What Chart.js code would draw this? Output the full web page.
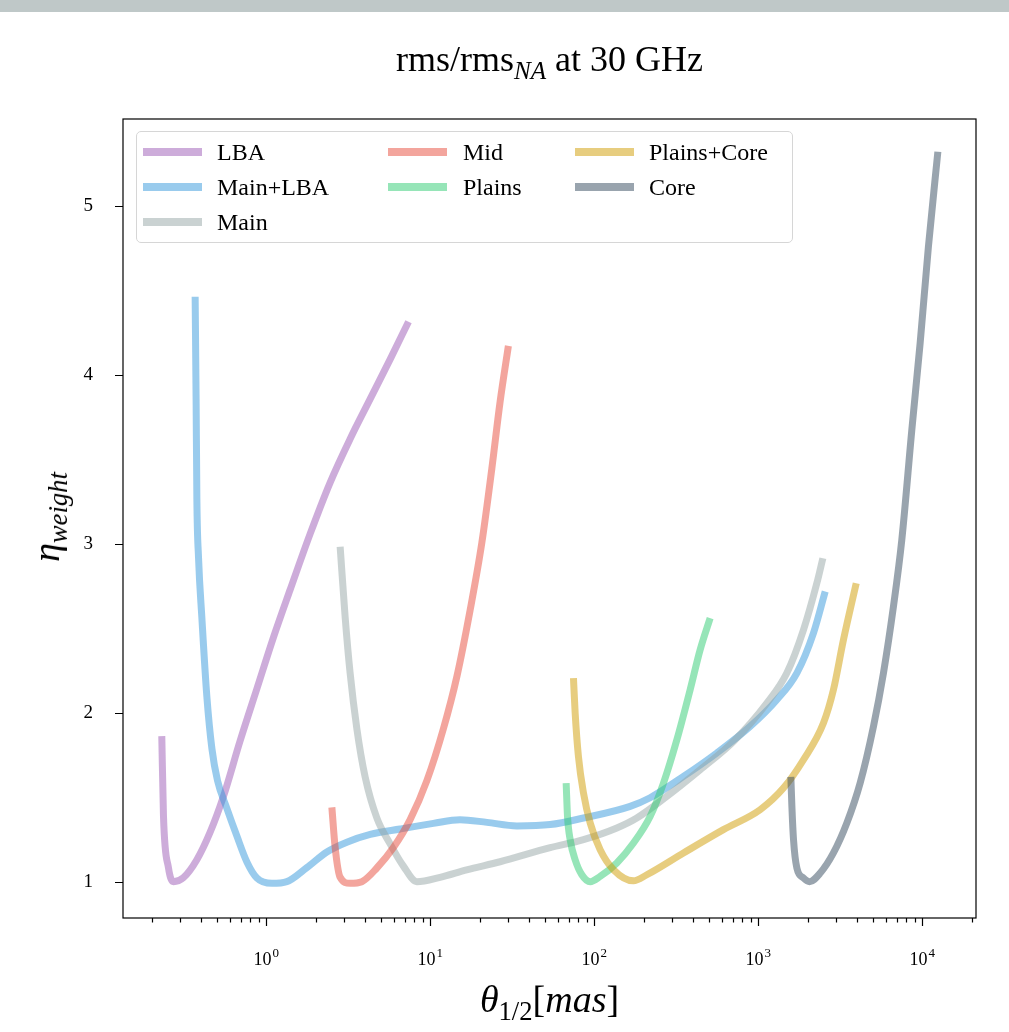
<!DOCTYPE html>
<html>
<head>
<meta charset="utf-8">
<script src="https://cdn.jsdelivr.net/npm/chart.js@4.4.1/dist/chart.umd.min.js"></script>
<style>
  html, body { margin:0; padding:0; background:#fff; }
  #wrap { position:relative; width:1009px; height:1032px; overflow:hidden; font-family:"Liberation Serif", "DejaVu Serif", serif; color:#000; }
  #topbar { position:absolute; left:0; top:0; width:1009px; height:12px; background:#bfc8c8; }
  #c { position:absolute; left:0; top:0; }
  .ttl { position:absolute; white-space:nowrap; line-height:1; }
  #title { left:123px; width:853px; top:41px; text-align:center; font-size:36px; }
  #xlab { left:123px; width:853px; top:980px; text-align:center; font-size:38px; }
  #ylab { left:46px; top:517px; font-size:38px; transform:translate(-50%,-50%) rotate(-90deg); transform-origin:center; }
  sub { font-size:0.7em; vertical-align:-0.3em; line-height:0; }
  #legend { position:absolute; left:136px; top:131px; width:657px; height:112px; border:1.3px solid #d6d6d6; border-radius:5px; background:rgba(255,255,255,0.8); box-sizing:border-box; }
  .li { position:absolute; font-size:24px; line-height:1; white-space:nowrap; }
  .sw { position:absolute; width:59px; height:8px; }
</style>
</head>
<body>
<div id="wrap">
  <div id="topbar"></div>
  <canvas id="c" width="1009" height="1032"></canvas>
  <div id="title" class="ttl">rms/rms<sub><i>NA</i></sub> at 30 GHz</div>
  <div id="xlab" class="ttl"><i>θ</i><sub>1/2</sub>[<i>mas</i>]</div>
  <div id="ylab" class="ttl"><i>η</i><sub><i>weight</i></sub></div>
  <div id="legend"></div>
</div>
<script>
// ---- data ----
const seriesNames = ['LBA', 'Main+LBA', 'Main', 'Mid', 'Plains', 'Plains+Core', 'Core'];
const seriesColors = ['rgba(155,89,182,0.5)', 'rgba(52,152,219,0.5)', 'rgba(149,165,166,0.5)', 'rgba(231,76,60,0.5)', 'rgba(46,204,113,0.5)', 'rgba(207,155,0,0.5)', 'rgba(52,73,94,0.5)'];

const lbaX = [0.231,0.2366,0.2537,0.272,0.313,0.378,0.4555,0.549,0.694,0.878,1.108,1.40,1.854,2.455,3.25,4.31,5.70,7.38];
const lbaY = [1.862,1.387,1.083,1.000,1.024,1.130,1.293,1.505,1.834,2.142,2.446,2.728,3.059,3.363,3.621,3.858,4.092,4.315];

const mainLbaX = [0.369,0.374,0.378,0.387,0.4055,0.435,0.467,0.505,0.576,0.663,0.763,0.878,1.083,1.337,1.77,2.345,3.105,4.31,6.56,10.47,15.2,22.2,33.8,53.9,86.1,165.8,219.4,350.4,560,894,1300,1722,2174,2564];
const mainLbaY = [4.463,3.858,3.269,2.917,2.563,2.095,1.787,1.599,1.434,1.270,1.117,1.022,0.99,1.0,1.083,1.176,1.234,1.28,1.312,1.345,1.367,1.351,1.33,1.338,1.377,1.446,1.497,1.623,1.762,1.919,2.077,2.235,2.472,2.718];

const mainX = [2.826,3.032,3.25,3.573,4.015,4.73,5.70,6.87,8.30,11.5,16.7,26.7,53.9,86.1,137.5,182,277,443,707,1130,1496,1890,2280,2481];
const mainY = [2.983,2.566,2.236,1.906,1.620,1.378,1.224,1.092,1.0,1.026,1.070,1.118,1.201,1.249,1.318,1.377,1.505,1.663,1.830,2.057,2.235,2.491,2.767,2.915];

const midX = [2.516,2.635,2.826,3.25,3.833,4.73,5.97,7.55,9.55,12.05,14.55,17.54,20.66,23.78,26.7,30.0];
const midY = [1.44,1.202,1.026,0.99,1.0,1.081,1.202,1.367,1.598,1.906,2.214,2.609,3.006,3.446,3.841,4.172];

const plainsX = [67.5,68.8,71.4,76.6,84.1,94.6,108.8,137.5,173.7,219.4,264.7,319.4,384.8,443,509.6];
const plainsY = [1.584,1.386,1.249,1.130,1.041,1.0,1.031,1.111,1.229,1.386,1.584,1.840,2.136,2.373,2.560];

const plainsCoreX = [74.8,76.6,80.2,86.1,94.6,108.8,131.2,173.7,209.6,350.4,614,1028,1426,1890,2502,2878,3313,3963];
const plainsCoreY = [2.205,1.998,1.741,1.525,1.347,1.189,1.071,1.005,1.041,1.170,1.308,1.426,1.554,1.722,1.939,2.136,2.432,2.767];

const coreX = [1583,1606,1643,1722,1890,2056,2390,2878,3474,4188,5048,5808,6683,7516,8651,9722,10920,12470];
const coreY = [1.620,1.446,1.249,1.081,1.022,1.0,1.051,1.170,1.347,1.584,1.919,2.235,2.629,3.024,3.675,4.188,4.759,5.321];

const xMajorTicks = [1, 10, 100, 1000, 10000];
const xTickBase = '10';
const xTickExponents = ['0', '1', '2', '3', '4'];
const yTicks = [1, 2, 3, 4, 5];
const yTickLabels = ['1', '2', '3', '4', '5'];

const xMin = 0.134, xMax = 21300;
const yMin = 0.785, yMax = 5.515;
// -----------------------------------------

const allX = [lbaX, mainLbaX, mainX, midX, plainsX, plainsCoreX, coreX];
const allY = [lbaY, mainLbaY, mainY, midY, plainsY, plainsCoreY, coreY];

function pts(xs, ys) { return xs.map((x, i) => ({ x: x, y: ys[i] })); }

const datasets = seriesNames.map((name, i) => ({
  label: name,
  data: pts(allX[i], allY[i]),
  borderColor: seriesColors[i],
  backgroundColor: seriesColors[i],
  borderWidth: 7,
  showLine: true,
  pointRadius: 0,
  pointHoverRadius: 0,
  fill: false,
  cubicInterpolationMode: 'monotone',
  borderCapStyle: 'butt',
  borderJoinStyle: 'round',
  order: seriesNames.length - i
}));

// minor tick values for the log axis
const xAllTicks = [];
for (let e = -1; e <= 4; e++) {
  for (let m = 1; m <= 9; m++) {
    const v = m * Math.pow(10, e);
    if (v >= xMin && v <= xMax) xAllTicks.push(Number(v.toPrecision(3)));
  }
}

const tickPlugin = {
  id: 'tickmarks',
  afterDraw(chart) {
    const ctx = chart.ctx, a = chart.chartArea;
    const xs = chart.scales.x, ys = chart.scales.y;
    ctx.save();
    ctx.strokeStyle = '#000';
    ctx.lineWidth = 1.2;
    ctx.beginPath();
    xAllTicks.forEach(v => {
      const px = Math.round(xs.getPixelForValue(v)) + 0.5;
      const major = xMajorTicks.includes(v);
      ctx.moveTo(px, a.bottom);
      ctx.lineTo(px, a.bottom + (major ? 8 : 4.5));
    });
    yTicks.forEach(v => {
      const py = Math.round(ys.getPixelForValue(v)) + 0.5;
      ctx.moveTo(a.left, py);
      ctx.lineTo(a.left - 8, py);
    });
    ctx.stroke();
    ctx.strokeRect(a.left, a.top, a.right - a.left, a.bottom - a.top);
    // x tick labels: 10 with a raised exponent
    ctx.fillStyle = '#000';
    ctx.textBaseline = 'alphabetic';
    xMajorTicks.forEach((v, k) => {
      const px = xs.getPixelForValue(v);
      ctx.font = '18px "Liberation Serif"';
      const wb = ctx.measureText(xTickBase).width;
      ctx.font = '13px "Liberation Serif"';
      const we = ctx.measureText(xTickExponents[k]).width;
      const x0 = px - (wb + we + 1) / 2;
      ctx.font = '18px "Liberation Serif"';
      ctx.textAlign = 'left';
      ctx.fillText(xTickBase, x0, 965);
      ctx.font = '13px "Liberation Serif"';
      ctx.fillText(xTickExponents[k], x0 + wb + 1, 957);
    });
    ctx.restore();
  }
};

new Chart(document.getElementById('c'), {
  type: 'scatter',
  data: { datasets: datasets },
  options: {
    responsive: false,
    animation: false,
    devicePixelRatio: 1,
    layout: { padding: { left: 0, top: 119, right: 33, bottom: 0 } },
    plugins: { legend: { display: false }, title: { display: false }, tooltip: { enabled: false } },
    scales: {
      x: {
        type: 'logarithmic',
        min: xMin, max: xMax,
        grid: { display: false },
        border: { display: false },
        afterBuildTicks: s => { s.ticks = xAllTicks.map(v => ({ value: v })); },
        afterFit: s => { s.height = 114; },
        ticks: {
          autoSkip: false, maxRotation: 0, minRotation: 0, padding: 24,
          color: '#000',
          font: { family: 'Liberation Serif', size: 18 },
          callback: () => ''
        }
      },
      y: {
        type: 'linear',
        min: yMin, max: yMax,
        grid: { display: false },
        border: { display: false },
        afterBuildTicks: s => { s.ticks = yTicks.map(v => ({ value: v })); },
        afterFit: s => { s.width = 123; },
        ticks: {
          padding: 22,
          color: '#000',
          font: { family: 'Liberation Serif', size: 19 },
          callback: (v) => { const k = yTicks.indexOf(v); return k >= 0 ? yTickLabels[k] : ''; }
        }
      }
    }
  },
  plugins: [tickPlugin]
});

// legend (column-major, as in the reference)
const legendPos = [
  [0, 0], [0, 1], [0, 2], [1, 0], [1, 1], [2, 0], [2, 1]
];
const colSw = [6, 251, 438];
const colTx = [80, 326, 512];
const rowY = [20, 55, 90];
const lg = document.getElementById('legend');
seriesNames.forEach((n, i) => {
  const [c, r] = legendPos[i];
  const sw = document.createElement('div');
  sw.className = 'sw';
  sw.style.left = colSw[c] + 'px';
  sw.style.top = (rowY[r] - 4) + 'px';
  sw.style.background = seriesColors[i];
  lg.appendChild(sw);
  const t = document.createElement('div');
  t.className = 'li';
  t.style.left = colTx[c] + 'px';
  t.style.top = (rowY[r] - 12) + 'px';
  t.textContent = n;
  lg.appendChild(t);
});
</script>
</body>
</html>
